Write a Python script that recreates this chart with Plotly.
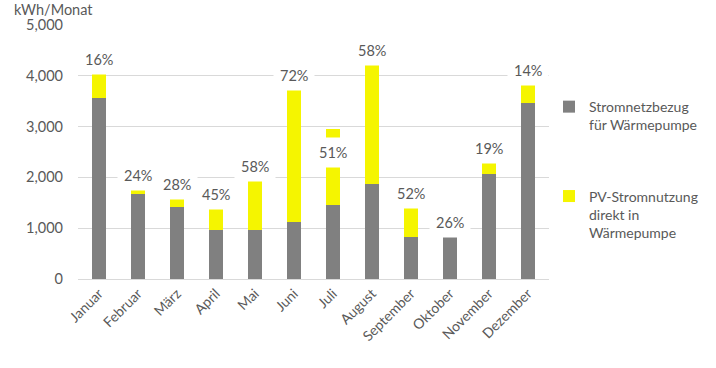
import plotly.graph_objects as go

months = ["Januar", "Februar", "März", "April", "Mai", "Juni", "Juli",
          "August", "September", "Oktober", "November", "Dezember"]
grid_kwh = [3560, 1670, 1420, 965, 965, 1120, 1460, 1870, 830, 830, 2070, 3470]
pv_kwh = [495, 100, 155, 415, 965, 2620, 1495, 2360, 570, 0, 215, 350]
pct_labels = ["16%", "24%", "28%", "45%", "58%", "72%", "51%",
              "58%", "52%", "26%", "19%", "14%"]
juli_label_y = 2500

FONT = "Lato"
TXT = "#595959"
GRAY = "#808080"
YELLOW = "#F5F500"

fig = go.Figure()
fig.add_bar(x=months, y=grid_kwh, name="Stromnetzbezug<br>für Wärmepumpe",
            marker=dict(color=GRAY, line_width=0), legendgroup="a")
fig.add_bar(x=months, y=pv_kwh, name="PV-Stromnutzung<br>direkt in<br>Wärmepumpe",
            marker=dict(color=YELLOW, line_width=0), legendgroup="b")

for m, g, p, lab in zip(months, grid_kwh, pv_kwh, pct_labels):
    if m == "Juli":
        y, ys = juli_label_y, 0
    else:
        y, ys = g + p, 14
    fig.add_annotation(x=m, y=y, yshift=ys, text=lab, showarrow=False,
                       xanchor="center", yanchor="middle",
                       bgcolor="white", borderpad=6,
                       font=dict(family=FONT, size=14.5, color=TXT))

fig.add_annotation(xref="paper", yref="paper", x=-0.14, y=1.06,
                   xanchor="left", yanchor="middle", text="kWh/Monat",
                   showarrow=False, font=dict(family=FONT, size=14.5, color=TXT))

fig.update_layout(
    width=716, height=368,
    barmode="stack", bargap=0.62,
    margin=dict(l=78, r=167, t=25, b=89, autoexpand=False),
    plot_bgcolor="white", paper_bgcolor="white",
    font=dict(family=FONT, size=14, color=TXT),
    legend=dict(x=1.0, xanchor="left", y=0.74, yanchor="top",
                tracegroupgap=50, traceorder="grouped", valign="top",
                itemwidth=30,
                font=dict(family=FONT, size=14, color=TXT)),
    xaxis=dict(tickangle=-45, showline=True, linecolor="#D9D9D9",
               ticks="", automargin=False,
               tickfont=dict(family=FONT, size=14, color=TXT)),
    yaxis=dict(range=[0, 5000], dtick=1000, tickformat=",",
               gridcolor="#D9D9D9", zeroline=False, ticks="",
               automargin=False, ticklabelstandoff=14,
               tickfont=dict(family=FONT, size=14.5, color=TXT)),
)

fig.write_html("out.html", config={"displayModeBar": False},
               post_script="document.body.style.margin='0';"
                           "document.body.style.padding='0';")
